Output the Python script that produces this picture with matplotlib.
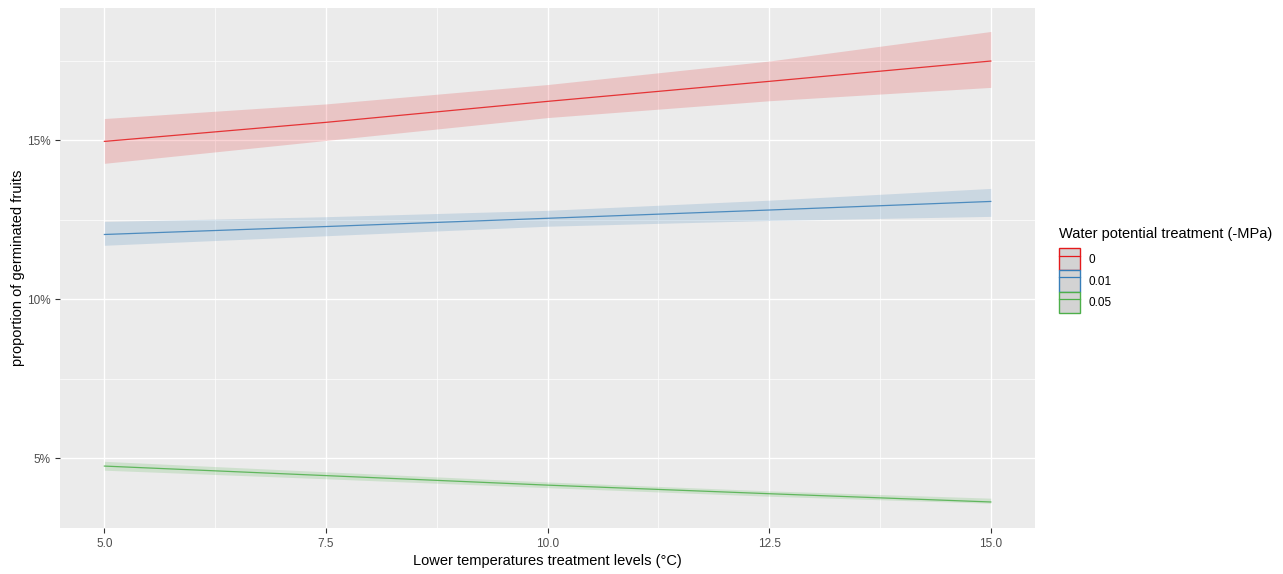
import numpy as np
import matplotlib.pyplot as plt
from matplotlib.patches import Patch
from matplotlib.lines import Line2D
from matplotlib.ticker import FuncFormatter, MultipleLocator

plt.rcParams['font.family'] = ['Liberation Sans', 'DejaVu Sans']

temps = [5.0, 7.5, 10.0, 12.5, 15.0]
groups = ["0", "0.01", "0.05"]
colors = ["#E41A1C", "#377EB8", "#4DAF4A"]

# fitted proportion (%) and confidence band
fit = {
    "0":    [14.97, 15.57, 16.23, 16.86, 17.50],
    "0.01": [12.04, 12.29, 12.55, 12.81, 13.08],
    "0.05": [4.75, 4.45, 4.15, 3.88, 3.62],
}
lower = {
    "0":    [14.28, 15.00, 15.72, 16.25, 16.67],
    "0.01": [11.70, 12.00, 12.30, 12.48, 12.61],
    "0.05": [4.62, 4.35, 4.07, 3.80, 3.58],
}
upper = {
    "0":    [15.69, 16.15, 16.76, 17.50, 18.43],
    "0.01": [12.45, 12.60, 12.80, 13.12, 13.49],
    "0.05": [4.90, 4.57, 4.25, 3.97, 3.74],
}

fig = plt.figure(figsize=(12.83, 5.74), dpi=100)
ax = fig.add_axes([0.0468, 0.0801, 0.76, 0.906])
ax.set_facecolor("#EBEBEB")

for g, c in zip(groups, colors):
    ax.fill_between(temps, lower[g], upper[g], color=c, alpha=0.18, linewidth=0)
    ax.plot(temps, fit[g], color=c, linewidth=0.9, alpha=0.85)

ax.set_xlim(4.5, 15.5)
ax.set_ylim(2.8, 19.17)
ax.xaxis.set_major_locator(MultipleLocator(2.5))
ax.xaxis.set_minor_locator(MultipleLocator(1.25))
ax.yaxis.set_major_locator(MultipleLocator(5))
ax.yaxis.set_minor_locator(MultipleLocator(2.5))
ax.xaxis.set_major_formatter(FuncFormatter(lambda v, p: f"{v:.1f}"))
ax.yaxis.set_major_formatter(FuncFormatter(lambda v, p: f"{v:.0f}%"))
ax.grid(which="major", color="white", linewidth=1.0)
ax.grid(which="minor", color="white", linewidth=0.5)
ax.set_axisbelow(True)
for s in ax.spines.values():
    s.set_visible(False)
ax.tick_params(which="major", length=3.5, color="#333333", labelcolor="#4D4D4D", labelsize=8.5)
ax.tick_params(which="minor", length=0)

ax.set_xlabel("Lower temperatures treatment levels (°C)", fontsize=10.5, labelpad=3)
ax.set_ylabel("proportion of germinated fruits", fontsize=10.5, labelpad=1)

handles = [(Patch(facecolor="#D3D3D3", edgecolor=c, linewidth=1.0),
            Line2D([], [], color=c, linewidth=0.9)) for c in colors]
leg = fig.legend(handles, groups, title="Water potential treatment (-MPa)",
                 loc="upper left", bbox_to_anchor=(0.822, 0.612), frameon=False,
                 fontsize=8.5, title_fontsize=10.5, handlelength=1.75, handleheight=2.4,
                 labelspacing=0.05, handletextpad=0.7, borderaxespad=0)
leg._legend_box.align = "left"
leg._legend_box.sep = 5

fig.savefig("out.png", dpi=100)
